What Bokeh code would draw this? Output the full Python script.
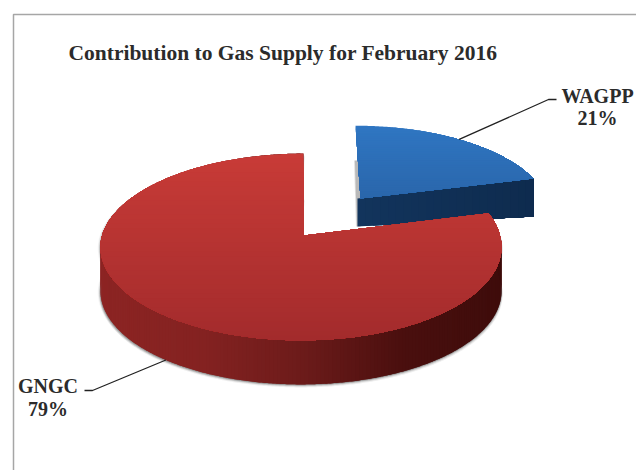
import numpy as np
from bokeh.plotting import figure
from bokeh.models import Range1d
from bokeh.core.properties import value
from bokeh.embed import file_html
from bokeh.resources import INLINE

TITLE = "Contribution to Gas Supply for February 2016"
categories = ["WAGPP", "GNGC"]
shares = [21, 79]

W, H = 636, 470
FONT = value("Liberation Serif")
INK = "#2b2b2b"


def lerp_color(c0, c1, t):
    a = np.array([int(c0[i:i + 2], 16) for i in (1, 3, 5)], float)
    b = np.array([int(c1[i:i + 2], 16) for i in (1, 3, 5)], float)
    r = np.round(a + (b - a) * t).astype(int)
    return "#%02x%02x%02x" % tuple(r)


class Disc:
    """A tilted disc: unit circle points pushed through a perspective divide."""

    def __init__(self, cx, cy, ax, by, k, depth, lean):
        self.cx, self.cy, self.ax, self.by, self.k = cx, cy, ax, by, k
        self.depth, self.lean = depth, lean

    def point(self, deg):
        t = np.radians(deg)
        s = np.sin(t)
        w = 1 + self.k * s
        return (self.cx + self.ax * np.cos(t) / w + self.lean * np.maximum(s, 0),
                self.cy - self.by * s / w)

    def face(self, start, sweep):
        angles = np.linspace(start, start + sweep, int(abs(sweep)) * 2 + 2)
        rx, ry = self.point(angles)
        return np.r_[self.cx, rx], np.r_[self.cy, ry]


def clip_below(xs, ys, level):
    """Keep the part of a polygon at or below a horizontal level."""
    pts = list(zip(xs, ys))
    out = []
    for i in range(len(pts)):
        a, b = pts[i], pts[(i + 1) % len(pts)]
        if a[1] >= level:
            out.append(a)
        if (a[1] >= level) != (b[1] >= level):
            s = (level - a[1]) / (b[1] - a[1])
            out.append((a[0] + s * (b[0] - a[0]), level))
    return out


p = figure(width=W, height=H, output_backend="svg", toolbar_location=None,
           x_range=Range1d(0, W), y_range=Range1d(H, 0), min_border=0,
           outline_line_color=None, background_fill_color="white",
           border_fill_color="white")
p.axis.visible = False
p.grid.visible = False


def ramp(stops, t):
    n = len(stops) - 1
    j = min(int(t * n), n - 1)
    return lerp_color(stops[j], stops[j + 1], t * n - j)


def draw_rim(disc, fx, fy, side_stops):
    rx, ry = fx[1:], fy[1:]

    # soft contact shadow below the rim
    for off, alpha in ((3.0, 0.10), (2.0, 0.18), (1.0, 0.25)):
        sx = np.r_[fx, rx[::-1]]
        sy = np.r_[fy, (ry + disc.depth)[::-1]]
        p.patch(sx + off * 0.4 * np.sign(sx - disc.cx), sy + off,
                fill_color="#555555", fill_alpha=alpha, line_color=None)
        p.patch(sx - off * 0.9 * (sx < disc.cx), sy + off * 0.5,
                fill_color="#555555", fill_alpha=alpha * 0.6, line_color=None)

    # side wall, shaded across its length; each piece overlaps the next one
    lo, hi = rx.min(), rx.max()
    step = 2
    for i in range(0, len(rx) - 1, step):
        j = min(i + step + 2, len(rx) - 1)
        ax_, ay_ = rx[i:j + 1], ry[i:j + 1]
        col = ramp(side_stops, (rx[i] - lo) / (hi - lo))
        p.patch(np.r_[ax_, ax_[::-1]], np.r_[ay_, (ay_ + disc.depth)[::-1]],
                fill_color=col, line_color=None)


def draw_top(fx, fy, top_hi, top_lo, bands=40):
    # painted from the far edge forward, every layer covering all that lies below it
    edges = np.linspace(fy.min(), fy.max(), bands + 1)
    for i in range(bands):
        pts = clip_below(fx, fy, edges[i])
        if len(pts) < 3:
            continue
        col = lerp_color(top_hi, top_lo, (i + 0.5) / bands)
        xs, ys = zip(*pts)
        p.patch(list(xs), list(ys), fill_color=col, line_color=None)


# sweep of each slice, measured from twelve o'clock
sweep_blue = 360 * shares[0] / sum(shares)
sweep_red = 360 * shares[1] / sum(shares)

blue = Disc(360, 198, 186, 83, 0.14, 30, -5)
red = Disc(300.5, 235, 199, 92, 0.123, 44, 2.5)

# detached slice sits behind the main body: its cut wall faces the viewer
bx, by_ = blue.face(90, -sweep_blue)
end_x, end_y = blue.point(90 - sweep_blue)
for off, alpha in ((1.5, 0.18), (0.6, 0.28)):
    p.patch([blue.cx - 5 - off, blue.cx, blue.cx, blue.cx - 3 - off],
            [blue.cy - 38, blue.cy - 38, blue.cy + 28, blue.cy + 28],
            fill_color="#555555", fill_alpha=alpha, line_color=None)
wall = np.linspace(0, 1, 24)
for i in range(len(wall) - 1):
    t0 = wall[i]
    x0 = blue.cx - 3 + (end_x - blue.cx + 3) * t0
    y0 = blue.cy + (end_y - blue.cy) * t0
    d0, d1 = 28 + 10 * t0, 38
    col = lerp_color("#12345c", "#0e2b4e", t0)
    p.patch([x0, end_x, end_x, x0], [y0, end_y, end_y + d1, y0 + d0],
            fill_color=col, line_color=None)
draw_top(bx, by_, "#2f76c2", "#2a66ab")

fx, fy = red.face(90, sweep_red)
draw_rim(red, fx, fy, ["#8c2423", "#842221", "#6c1b1a", "#4a0f0e", "#3e0c0b"])
fx[0] = 303  # apex of the main body
draw_top(fx, fy, "#c83b37", "#a32b2c")

# leader lines start at the middle of each slice's rim
mx, my = blue.point(90 - sweep_blue / 2)
p.line([mx, 548, 556], [my, 99, 99], line_color="#222222", line_width=1.3)
mx, my = red.point(90 + sweep_red / 2)
p.line([mx, 92, 84], [my + red.depth, 390, 390], line_color="#222222", line_width=1.3)

p.text([68], [52], text=[TITLE], text_font=FONT, text_font_style="bold",
       text_font_size="21.5px", text_color=INK, text_baseline="middle")
p.text([597, 597], [95, 117], text=[categories[0], f"{shares[0]}%"], text_font=FONT,
       text_font_style="bold", text_font_size="20px", text_color=INK,
       text_align="center", text_baseline="middle")
p.text([47.5, 47.5], [385, 408], text=[categories[1], f"{shares[1]}%"], text_font=FONT,
       text_font_style="bold", text_font_size="20px", text_color=INK,
       text_align="center", text_baseline="middle")

# frame of the panel: only its top and left edges are in view
p.line([13, 13, W], [H, 14, 14], line_color="#a6a6a6", line_width=1.5)

open("out.html", "w").write(file_html(p, INLINE))
